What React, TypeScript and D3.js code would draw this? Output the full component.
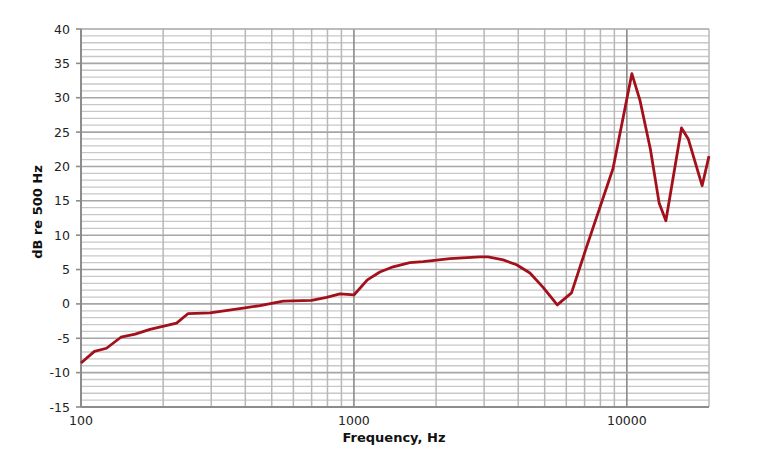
import React, { useEffect, useRef } from 'react';
import * as d3 from 'd3';

const frequencies = [
  100, 112, 124, 140, 158, 179, 224, 247, 297, 393, 453, 551, 700, 794, 889, 1000,
  1120, 1245, 1393, 1603, 1794, 2248, 2895, 3100, 3524, 3945, 4415, 4935, 5560, 6270,
  7080, 8900, 10430, 11160, 12200, 13130, 13900, 15860, 16790, 18870, 20000,
];
const levels = [
  -8.6, -6.9, -6.45, -4.85, -4.4, -3.7, -2.8, -1.4, -1.3, -0.6, -0.25, 0.4, 0.5, 0.95, 1.45, 1.3,
  3.5, 4.65, 5.4, 6.0, 6.15, 6.6, 6.85, 6.85, 6.4, 5.7, 4.5, 2.4, -0.15, 1.6,
  8.0, 19.7, 33.5, 29.7, 22.5, 14.7, 12.1, 25.6, 24.0, 17.2, 21.5,
];
const yTicks = [-15, -10, -5, 0, 5, 10, 15, 20, 25, 30, 35, 40];
const xTickLabels = [100, 1000, 10000];

const App: React.FC = () => {
  const svgRef = useRef<SVGSVGElement>(null);

  useEffect(() => {
    if (!svgRef.current) return;
    const width = 765;
    const height = 459;
    const left = 81;
    const right = 709;
    const top = 29;
    const bottom = 407;
    const font = 'Verdana, "DejaVu Sans", sans-serif';

    const svg = d3.select(svgRef.current);
    svg.selectAll('*').remove();
    svg.attr('width', width).attr('height', height);

    const x = d3.scaleLog().domain([100, 20000]).range([left, right]);
    const y = d3.scaleLinear().domain([-15, 40]).range([bottom, top]);

    const g = svg.append('g');

    // minor horizontal grid every 1 dB
    g.selectAll('line.hmin')
      .data(d3.range(-15, 41).filter((d) => d % 5 !== 0))
      .enter()
      .append('line')
      .attr('x1', left)
      .attr('x2', right)
      .attr('y1', (d) => y(d))
      .attr('y2', (d) => y(d))
      .attr('stroke', '#c8c8c8')
      .attr('stroke-width', 1.3);

    // vertical grid
    const vLines: number[] = [];
    [100, 1000, 10000].forEach((dec) => {
      for (let k = 1; k < 10; k++) {
        const f = dec * k;
        if (f > 100 && f <= 20000) vLines.push(f);
      }
    });
    g.selectAll('line.v')
      .data(vLines)
      .enter()
      .append('line')
      .attr('x1', (d) => x(d))
      .attr('x2', (d) => x(d))
      .attr('y1', top)
      .attr('y2', bottom)
      .attr('stroke', (d) => (d === 1000 || d === 10000 ? '#8a8a8a' : '#b8b8b8'))
      .attr('stroke-width', (d) => (d === 1000 || d === 10000 ? 1.6 : 1.5));

    // major horizontal grid every 5 dB
    g.selectAll('line.hmaj')
      .data(yTicks.filter((d) => d !== -15))
      .enter()
      .append('line')
      .attr('x1', left)
      .attr('x2', right)
      .attr('y1', (d) => y(d))
      .attr('y2', (d) => y(d))
      .attr('stroke', '#a6a6a6')
      .attr('stroke-width', 1.6);

    // axes
    g.append('line')
      .attr('x1', left).attr('x2', left)
      .attr('y1', top).attr('y2', bottom)
      .attr('stroke', '#8c8c8c').attr('stroke-width', 2);
    g.append('line')
      .attr('x1', left).attr('x2', right)
      .attr('y1', bottom).attr('y2', bottom)
      .attr('stroke', '#8c8c8c').attr('stroke-width', 2);

    // y ticks and labels
    g.selectAll('line.ytick')
      .data(yTicks)
      .enter()
      .append('line')
      .attr('x1', left - 5)
      .attr('x2', left)
      .attr('y1', (d) => y(d))
      .attr('y2', (d) => y(d))
      .attr('stroke', '#8c8c8c')
      .attr('stroke-width', 1.6);
    g.selectAll('text.ylab')
      .data(yTicks)
      .enter()
      .append('text')
      .attr('x', left - 11)
      .attr('y', (d) => y(d) + 4.5)
      .attr('text-anchor', 'end')
      .attr('font-family', font)
      .attr('font-size', 12.5)
      .attr('fill', '#222')
      .text((d) => d);

    g.selectAll('text.xlab')
      .data(xTickLabels)
      .enter()
      .append('text')
      .attr('x', (d) => x(d))
      .attr('y', 425)
      .attr('text-anchor', 'middle')
      .attr('font-family', font)
      .attr('font-size', 12.5)
      .attr('fill', '#222')
      .text((d) => d);

    // axis titles
    g.append('text')
      .attr('x', 394)
      .attr('y', 442)
      .attr('text-anchor', 'middle')
      .attr('font-family', font)
      .attr('font-weight', 'bold')
      .attr('font-size', 13)
      .attr('fill', '#111')
      .text('Frequency, Hz');
    g.append('text')
      .attr('transform', 'translate(41.5,212) rotate(-90)')
      .attr('text-anchor', 'middle')
      .attr('font-family', font)
      .attr('font-weight', 'bold')
      .attr('font-size', 13)
      .attr('fill', '#111')
      .text('dB re 500 Hz');

    // response curve
    const line = d3
      .line<number>()
      .x((_, i) => x(frequencies[i]))
      .y((d) => y(d));
    g.append('path')
      .attr('d', line(levels)!)
      .attr('fill', 'none')
      .attr('stroke', '#a3101c')
      .attr('stroke-width', 2.8)
      .attr('stroke-linejoin', 'round');
  }, []);

  return <svg ref={svgRef} style={{ position: 'absolute', left: 0, top: 0 }}></svg>;
};

export default App;
